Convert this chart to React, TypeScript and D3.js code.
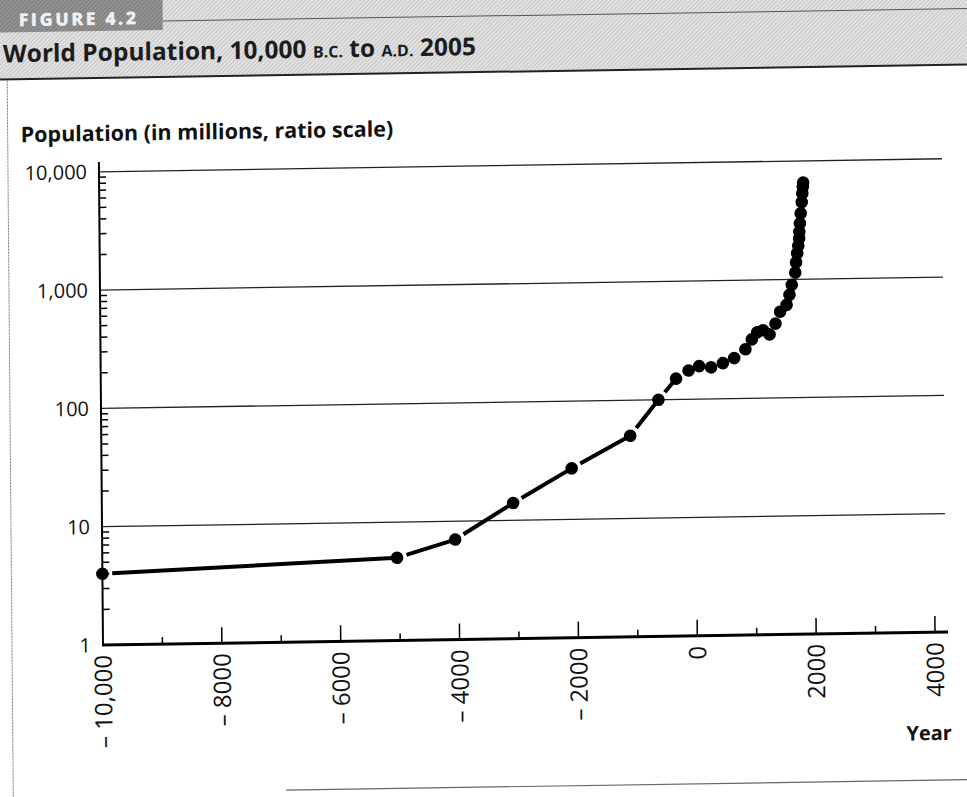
import * as d3 from "d3";

// values (year, population in millions)
const YEARS = [
  -10000, -5040, -4060, -3080, -2090, -1100, -620, -320, -110, 70, 270, 470, 660, 850, 960, 1050,
  1150, 1260, 1360, 1440, 1550, 1600, 1640, 1700, 1715, 1735, 1755, 1770, 1775, 1785, 1800, 1820,
  1830, 1840, 1845,
];
const POPULATION = [
  4, 5, 7, 14, 27, 50, 100, 150, 175, 190, 185, 200, 220, 260, 315, 360, 375, 345, 425, 535, 610,
  740, 900, 1140, 1390, 1660, 1920, 2220, 2520, 2970, 3610, 4480, 5320, 6050, 6550,
];

const X_TICKS = [-10000, -8000, -6000, -4000, -2000, 0, 2000, 4000];
const X_TICK_LABELS = ["– 10,000", "– 8000", "– 6000", "– 4000", "– 2000", "0", "2000", "4000"];
const X_MINOR = [-9000, -7000, -5000, -3000, -1000, 1000, 3000];
const Y_TICKS = [1, 10, 100, 1000, 10000];
const Y_TICK_LABELS = ["1", "10", "100", "1,000", "10,000"];

const W = 967;
const H = 797;
const R = 6.3;

const x = d3.scaleLinear().domain([-10000, 4000]).range([103, 935]);
const y = d3.scaleLog().domain([1, 10000]).range([645, 171.8]);

const font = "'Open Sans', 'Liberation Sans', sans-serif";

export default function App() {
  const pts = YEARS.map((yr, i) => [x(yr), y(POPULATION[i])] as [number, number]);

  // each segment starts a little after the dot, ends under the next one
  const segments = [];
  for (let i = 0; i < pts.length - 1; i++) {
    const [x0, y0] = pts[i];
    const [x1, y1] = pts[i + 1];
    const d = Math.hypot(x1 - x0, y1 - y0);
    const off = R + 3.5;
    if (d - off < R + 1) continue;
    const sx = x0 + ((x1 - x0) * off) / d;
    const sy = y0 + ((y1 - y0) * off) / d;
    segments.push(<line key={i} x1={sx} y1={sy} x2={x1} y2={y1} stroke="#000" strokeWidth={4} />);
  }

  const minorY: number[] = [];
  [1, 10, 100, 1000].forEach((d) => {
    for (let k = 2; k <= 9; k++) minorY.push(d * k);
  });

  return (
    <svg
      width={W}
      height={H}
      viewBox={`0 0 ${W} ${H}`}
      style={{ position: "absolute", left: 0, top: 0, background: "#fff" }}
    >
      <defs>
        <pattern id="hatchLight" width="3" height="3" patternUnits="userSpaceOnUse" patternTransform="rotate(45)">
          <rect width="3" height="3" fill="#e2e2e2" />
          <line x1="0" y1="0" x2="0" y2="3" stroke="#ababab" strokeWidth="1" />
        </pattern>
        <pattern id="hatchDark" width="3" height="3" patternUnits="userSpaceOnUse" patternTransform="rotate(45)">
          <rect width="3" height="3" fill="#929292" />
          <line x1="0" y1="0" x2="0" y2="3" stroke="#666" strokeWidth="1" />
        </pattern>
      </defs>

      {/* whole page is slightly skewed, like the scan */}
      <g transform="matrix(1,-0.0155,0.0085,1,-5.48,1.6)">
        {/* header band */}
        <rect x={-20} y={-20} width={1010} height={98} fill="url(#hatchLight)" />
        <line x1={168} y1={22} x2={990} y2={22} stroke="#555" strokeWidth={1} />
        <rect x={-20} y={-20} width={188} height={51} fill="url(#hatchDark)" />
        <text x={24} y={25} fontFamily={font} fontWeight={800} fontSize={18} letterSpacing={2.4} fill="#f0f0f0">
          FIGURE 4.2
        </text>
        <text x={8} y={61} fontFamily={font} fontWeight={700} fontSize={24.5} fill="#1c1c1c">
          World Population, 10,000 <tspan fontSize={16}>B.C.</tspan> to <tspan fontSize={16}>A.D.</tspan> 2005
        </text>
        <line x1={-20} y1={78} x2={990} y2={78} stroke="#222" strokeWidth={2} />

        {/* page borders */}
        <line x1={12} y1={79} x2={12} y2={810} stroke="#777" strokeWidth={1} strokeDasharray="2 1" />
        <line x1={285} y1={793} x2={990} y2={793} stroke="#666" strokeWidth={1.2} />

        {/* y axis title */}
        <text x={25} y={141} fontFamily={font} fontWeight={700} fontSize={21.5} fill="#111">
          Population (in millions, ratio scale)
        </text>

        {/* gridlines */}
        {Y_TICKS.slice(1).map((t) => (
          <line key={t} x1={103} y1={y(t)} x2={946} y2={y(t)} stroke="#222" strokeWidth={1.3} />
        ))}

        {/* y axis */}
        <line x1={103} y1={162} x2={103} y2={646} stroke="#000" strokeWidth={2} />
        {minorY.map((t) => (
          <line key={t} x1={103} y1={y(t)} x2={110} y2={y(t)} stroke="#000" strokeWidth={1.5} />
        ))}
        {Y_TICK_LABELS.map((label, i) => (
          <text
            key={label}
            x={91}
            y={y(Y_TICKS[i])}
            dy="0.36em"
            textAnchor="end"
            fontFamily={font}
            fontSize={20}
            fill="#111"
          >
            {label}
          </text>
        ))}

        {/* x axis */}
        <line x1={102} y1={645} x2={948} y2={645} stroke="#000" strokeWidth={3} />
        {X_TICKS.slice(1).map((t) => (
          <line key={t} x1={x(t)} y1={645} x2={x(t)} y2={629} stroke="#000" strokeWidth={1.5} />
        ))}
        {X_MINOR.map((t) => (
          <line key={t} x1={x(t)} y1={645} x2={x(t)} y2={638} stroke="#000" strokeWidth={1.5} />
        ))}
        {X_TICK_LABELS.map((label, i) => (
          <text
            key={label}
            transform={`translate(${x(X_TICKS[i])},${655}) rotate(-90)`}
            dy="0.36em"
            textAnchor="end"
            fontFamily={font}
            fontSize={24}
            fill="#111"
          >
            {label}
          </text>
        ))}
        <text x={951} y={753} textAnchor="end" fontFamily={font} fontWeight={700} fontSize={20} fill="#111">
          Year
        </text>

        {/* data */}
        {segments}
        {pts.map(([cx, cy], i) => (
          <circle key={i} cx={cx} cy={cy} r={R} fill="#000" />
        ))}
      </g>
    </svg>
  );
}
